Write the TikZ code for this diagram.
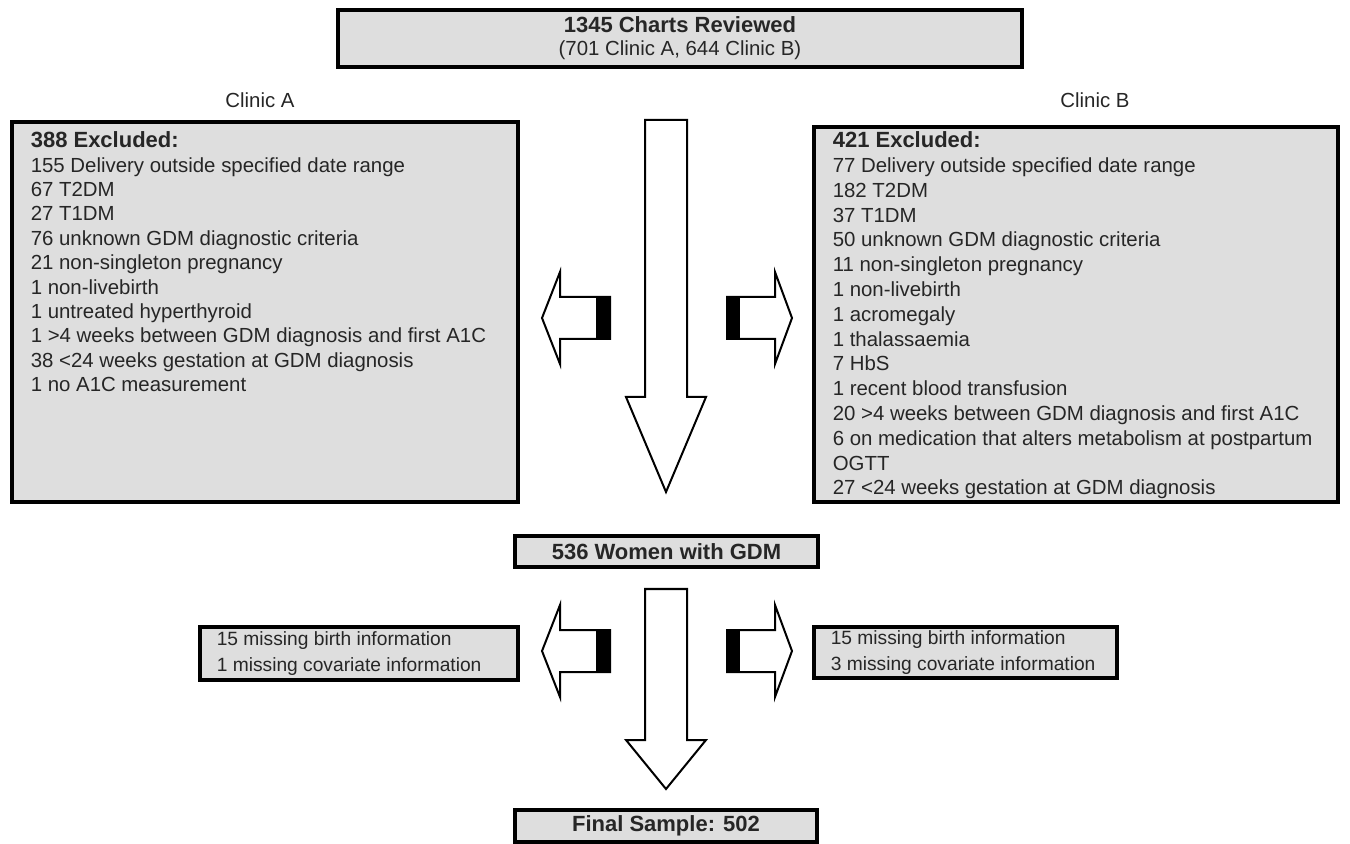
\documentclass[tikz,border=0pt]{standalone}
\usepackage{fontspec}
\setmainfont{Liberation Sans}
\usetikzlibrary{fit}
\definecolor{boxgray}{HTML}{DEDEDE}
\colorlet{ink}{black!85}
\tikzset{
  % node options
  box/.style={rectangle,draw=black,line width=1.6pt,fill=boxgray,inner sep=0pt,
    text=ink,font=\fontsize{10.2}{11.5}\selectfont},
  boxtext/.style={inner sep=0pt,align=left,text=ink,font=\fontsize{10.2}{12.2}\selectfont},
  smalltext/.style={boxtext,font=\fontsize{9.6}{12.8}\selectfont},
  clinic/.style={text=ink,font=\fontsize{10.2}{12}\selectfont},
  % path options
  block arrow/.style={draw=black,line width=1pt,fill=white,line join=miter},
  tail/.style={fill=black},
}
\newcommand{\heading}[1]{{\bfseries\fontsize{11}{13}\selectfont #1}}
\newcommand{\bigdownarrow}[3]{\draw[block arrow] (645,#1) -- (687,#1) -- (687,#2) -- (706,#2) -- (666,#3) -- (626,#2) -- (645,#2) -- cycle;}
\newcommand{\leftblock}[1]{%
  \draw[block arrow] (610,#1-21) -- (560,#1-21) -- (560,#1-46) -- (542,#1) -- (560,#1+46) -- (560,#1+21) -- (610,#1+21) -- cycle;
  \fill[tail] (596,#1-21) rectangle (610,#1+21);}
\newcommand{\rightblock}[1]{%
  \draw[block arrow] (727,#1-21) -- (775,#1-21) -- (775,#1-46) -- (792,#1) -- (775,#1+46) -- (775,#1+21) -- (727,#1+21) -- cycle;
  \fill[tail] (727,#1-21) rectangle (740,#1+21);}

\begin{document}
\begin{tikzpicture}[x=0.5pt,y=-0.5pt]
    \useasboundingbox (0,0) rectangle (1350,844);
    % boxes
    \node[box,minimum width=342pt,minimum height=28.5pt,align=center] (charts) at (680,38.5) {\heading{1345 Charts Reviewed}\\(701 Clinic A, 644 Clinic B)};
    \node[clinic] (clinicA) at (260,100) {Clinic A};
    \node[clinic] (clinicB) at (1095,100) {Clinic B};
    \node[box,fit={(12,122) (518,502)}] (exclA) {};
    \node[box,fit={(814,127) (1338,502)}] (exclB) {};
    \node[boxtext,anchor=north west] (exclA text) at ([xshift=10pt,yshift=-5.5pt]exclA.north west) {\heading{388 Excluded:}\\
      155 Delivery outside specified date range\\
      67 T2DM\\
      27 T1DM\\
      76 unknown GDM diagnostic criteria\\
      21 non-singleton pregnancy\\
      1 non-livebirth\\
      1 untreated hyperthyroid\\
      1 >4 weeks between GDM diagnosis and first A1C\\
      38 <24 weeks gestation at GDM diagnosis\\
      1 no A1C measurement};
    \node[boxtext,anchor=north west,font=\fontsize{10.2}{12.4}\selectfont] (exclB text) at ([xshift=10pt,yshift=-3pt]exclB.north west) {\heading{421 Excluded:}\\
      77 Delivery outside specified date range\\
      182 T2DM\\
      37 T1DM\\
      50 unknown GDM diagnostic criteria\\
      11 non-singleton pregnancy\\
      1 non-livebirth\\
      1 acromegaly\\
      1 thalassaemia\\
      7 HbS\\
      1 recent blood transfusion\\
      20 >4 weeks between GDM diagnosis and first A1C\\
      6 on medication that alters metabolism at postpartum\\
      OGTT\\
      27 <24 weeks gestation at GDM diagnosis};
    \node[box,minimum width=151.5pt,minimum height=15.5pt] (women) at (666.5,551.5) {\heading{536 Women with GDM}};
    \node[box,fit={(200,627) (518,680)}] (missA) {};
    \node[box,fit={(814,627) (1117,678)}] (missB) {};
    \node[smalltext,anchor=west] (missA text) at ([xshift=9pt]missA.west) {15 missing birth information\\1 missing covariate information};
    \node[smalltext,anchor=west] (missB text) at ([xshift=9pt]missB.west) {15 missing birth information\\3 missing covariate information};
    \node[box,minimum width=151pt,minimum height=16pt] (final) at (666,826) {\heading{Final Sample: 502}};
    % block arrows
    \bigdownarrow{120}{397}{492}
    \bigdownarrow{589}{740}{789}
    \leftblock{318}
    \rightblock{318}
    \leftblock{651}
    \rightblock{651}
\end{tikzpicture}
\end{document}
